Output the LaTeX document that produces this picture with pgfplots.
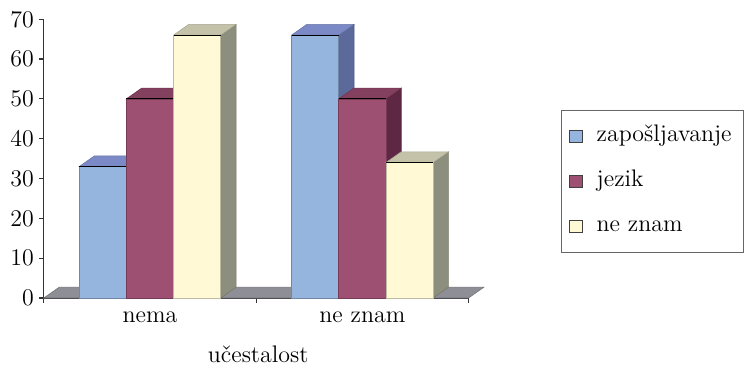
\documentclass[border=0pt]{standalone}
\usepackage{pgfplots}
\usepackage{pgfplotstable}
\pgfplotsset{compat=1.18}

% face colours of the three series: front, top, side
\definecolor{cAfront}{HTML}{95B4DE}
\definecolor{cAtop}{HTML}{7B8AC6}
\definecolor{cAside}{HTML}{5B6A9A}
\definecolor{cBfront}{HTML}{9E5073}
\definecolor{cBtop}{HTML}{84405F}
\definecolor{cBside}{HTML}{5E2845}
\definecolor{cCfront}{HTML}{FFF9D6}
\definecolor{cCtop}{HTML}{C4C3A9}
\definecolor{cCside}{HTML}{8C8E7E}
\definecolor{floorgray}{HTML}{8E8F96}

% small square legend swatch
\pgfplotsset{
  legsq/.style={legend image code/.code={%
    \draw[##1, draw=black!75, line width=0.4pt] (0pt,-3pt) rectangle (6.5pt,3pt);}},
}

% category centre and the values of the three series
\pgfplotstableread{
cat zaposljavanje jezik neznam
0.5 33 50 66
1.5 66 50 34
}\datatable

% bar width and the oblique depth offset, in axis units
\def\bw{0.2222}
\def\dx{0.072}
\def\dy{2.7}

% one oblique cuboid: #1 row, #2 column, #3 slot in group, #4 colour prefix
\newcommand\cuboid[4]{%
  \pgfplotstablegetelem{#1}{cat}\of\datatable \let\cx\pgfplotsretval
  \pgfplotstablegetelem{#1}{#2}\of\datatable \let\hv\pgfplotsretval
  \pgfmathsetmacro\xl{\cx+(#3-1.5)*\bw}%
  \pgfmathsetmacro\xr{\xl+\bw}%
  \pgfmathsetmacro\xld{\xl+\dx}%
  \pgfmathsetmacro\xrd{\xr+\dx}%
  \pgfmathsetmacro\htop{\hv+\dy}%
  \edef\doit{%
    \noexpand\addplot[forget plot, fill=#4side, draw=#4side!85!black, line width=0.3pt]
      coordinates {(\xr,0) (\xrd,\dy) (\xrd,\htop) (\xr,\hv)} -- cycle;
    \noexpand\addplot[forget plot, fill=#4top, draw=#4top!85!black, line width=0.3pt]
      coordinates {(\xl,\hv) (\xr,\hv) (\xrd,\htop) (\xld,\htop)} -- cycle;
    \noexpand\addplot[forget plot, fill=#4front, draw=#4front!75!black, line width=0.3pt]
      coordinates {(\xl,0) (\xr,0) (\xr,\hv) (\xl,\hv)} -- cycle;
    \noexpand\addplot[forget plot, draw=black, line width=0.6pt]
      coordinates {(\xl,\hv) (\xr,\hv)};
  }\doit
}

\begin{document}
\begin{tikzpicture}
\begin{axis}[
  x=106.5pt, y=1.998pt,
  xmin=0, xmax=2, ymin=0, ymax=70,
  clip=false,
  axis x line*=bottom, axis y line*=left,
  axis line style={-, black!80, line width=0.6pt},
  font=\fontsize{12}{14.4}\selectfont,
  /pgf/number format/assume math mode=true,
  ytick={0,10,...,70},
  tick align=outside,
  major tick length=2.5pt,
  minor tick length=2.5pt,
  tick style={black!80, line width=0.6pt},
  xtick={0.5,1.5},
  xticklabels={nema, ne znam},
  major x tick style={draw=none},
  minor xtick={0,1,2},
  xticklabel style={yshift=-0.8pt},
  yticklabel style={inner xsep=2.3pt},
  xlabel={učestalost},
  xlabel style={at={(axis description cs:0.5047,-0.2324)}, anchor=base},
  legend cell align=left,
  legend style={
    at={(1.2167,0.6732)}, anchor=north west,
    draw=black!60, line width=0.5pt,
    font=\fontsize{12}{14.4}\selectfont,
    inner xsep=4pt, inner ysep=6pt,
    row sep=8.5pt,
    nodes={text height=0.75em, text depth=0.25em},
    /tikz/every odd column/.append style={column sep=5pt},
  },
]
% page extent
\path (axis cs:-0.2066,74.82) rectangle (axis cs:3.286,-16.52);

% floor
\addplot[forget plot, fill=floorgray, draw=floorgray!80!black, line width=0.3pt]
  coordinates {(0,0) (2,0) (2.072,2.7) (0.072,2.7)} -- cycle;

% bars, drawn left to right
\cuboid{0}{zaposljavanje}{0}{cA}
\cuboid{0}{jezik}{1}{cB}
\cuboid{0}{neznam}{2}{cC}
\cuboid{1}{zaposljavanje}{0}{cA}
\cuboid{1}{jezik}{1}{cB}
\cuboid{1}{neznam}{2}{cC}

% legend
\addlegendimage{legsq, fill=cAfront}
\addlegendentry{zapošljavanje}
\addlegendimage{legsq, fill=cBfront}
\addlegendentry{jezik}
\addlegendimage{legsq, fill=cCfront}
\addlegendentry{ne znam}
\end{axis}
\end{tikzpicture}
\end{document}
